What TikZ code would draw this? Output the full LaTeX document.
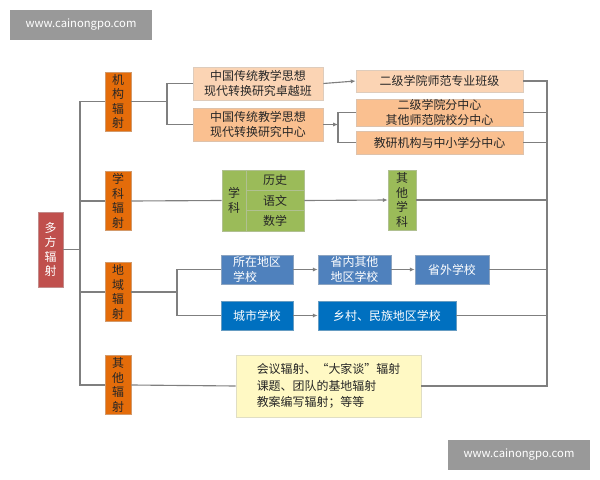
\documentclass[tikz,border=0pt]{standalone}
\usepackage{fontspec}
\setmainfont{Noto Sans CJK SC}
\usetikzlibrary{arrows.meta}
\definecolor{rootred}{HTML}{C0504D}
\definecolor{orange}{HTML}{E46C0A}
\definecolor{peachlight}{HTML}{FBD4B4}
\definecolor{peach}{HTML}{FAC090}
\definecolor{leaf}{HTML}{9BBB59}
\definecolor{blueone}{HTML}{4F81BD}
\definecolor{bluetwo}{HTML}{0070C0}
\definecolor{paleyellow}{HTML}{FFF9C4}
\definecolor{linegray}{HTML}{7F7F7F}
\tikzset{
  box/.style={draw=#1!80!black!60, fill=#1, inner sep=0pt, align=center,
    font=\fontsize{8.5}{10.5}\selectfont, text=black!85},
  vbox/.style={box=#1, font=\fontsize{8.5}{10.3}\selectfont},
  link/.style={draw=linegray, thick},
  arr/.style={link, -{Latex[length=3.5pt,width=3pt]}},
}
\begin{document}
\begin{tikzpicture}[x=0.025cm, y=-0.025cm]
\useasboundingbox (0,0) rectangle (600,480);

%% watermarks
\node [fill=black!40, text=white, minimum width=3.55cm, minimum height=.75cm, font=\fontsize{8}{9}\selectfont] (wmtop) at (81,25) {www.cainongpo.com};
\node [fill=black!40, text=white, minimum width=3.55cm, minimum height=.75cm, font=\fontsize{8}{9}\selectfont] (wmbot) at (519,455) {www.cainongpo.com};

%% root and first level
\node [vbox=rootred, text=white, minimum width=.625cm, minimum height=1.875cm] (root) at (50.5,249.5) {多\\方\\辐\\射};
\node [vbox=orange, minimum width=.65cm, minimum height=1.475cm] (jigou) at (118,101.5) {机\\构\\辐\\射};
\node [vbox=orange, minimum width=.65cm, minimum height=1.475cm] (xueke) at (118,201) {学\\科\\辐\\射};
\node [vbox=orange, minimum width=.65cm, minimum height=1.475cm] (diyu) at (118,292) {地\\域\\辐\\射};
\node [vbox=orange, minimum width=.65cm, minimum height=1.475cm] (qita) at (118,385) {其\\他\\辐\\射};
\coordinate (trunk) at (80,0);
\coordinate (bus) at (547,0);

%% institutions
\node [box=peachlight, minimum width=3.25cm, minimum height=.825cm] (ban) at (258,83.5) {中国传统教学思想\\现代转换研究卓越班};
\node [box=peach, minimum width=3.25cm, minimum height=.825cm] (zhongxin) at (258,124.5) {中国传统教学思想\\现代转换研究中心};
\node [box=peachlight, minimum width=4.175cm, minimum height=.55cm] (banji) at (439.5,81) {二级学院师范专业班级};
\node [box=peach, minimum width=4.175cm, minimum height=.675cm] (fenzx) at (439.5,112.5) {二级学院分中心\\其他师范院校分中心};
\node [box=peach, minimum width=4.175cm, minimum height=.575cm] (jiaoyan) at (439.5,142.5) {教研机构与中小学分中心};
\coordinate (jj) at (167,0);
\coordinate (kk) at (338,0);

%% subjects
\node [box=leaf, minimum width=.6cm, minimum height=1.525cm] (xkleft) at (234,200.5) {学\\科};
\node [box=leaf, minimum width=1.45cm, minimum height=.508cm] (lishi) at (275,180.3) {历史};
\node [box=leaf, minimum width=1.45cm, minimum height=.508cm] (yuwen) at (275,200.5) {语文};
\node [box=leaf, minimum width=1.45cm, minimum height=.508cm] (shuxue) at (275,220.7) {数学};
\node [box=leaf, minimum width=.7cm, minimum height=1.5cm] (qitaxk) at (402,200) {其\\他\\学\\科};

%% regions
\node [box=blueone, text=white, minimum width=1.8cm, minimum height=.725cm, align=left] (suozai) at (257,269.5) {所在地区\\学校};
\node [box=blueone, text=white, minimum width=1.825cm, minimum height=.725cm] (shengnei) at (354.5,269.5) {省内其他\\地区学校};
\node [box=blueone, text=white, minimum width=1.85cm, minimum height=.725cm] (shengwai) at (452,269.5) {省外学校};
\node [box=bluetwo, text=white, minimum width=1.8cm, minimum height=.725cm] (chengshi) at (257,315.5) {城市学校};
\node [box=bluetwo, text=white, minimum width=3.45cm, minimum height=.725cm] (xiangcun) at (387,315.5) {乡村、民族地区学校};
\coordinate (dd) at (177,0);

%% others
\node [box=paleyellow, minimum width=4.625cm, minimum height=1.55cm, align=left, font=\fontsize{8.5}{12}\selectfont] (huiyi) at (328.5,386) {会议辐射、“大家谈”辐射\\课题、团队的基地辐射\\教案编写辐射；等等};

%% connectors
% trunk
\draw [link] (root.east) -- (root.east -| trunk);
\draw [link] (jigou.west) -- (jigou.west -| trunk) -- (qita.west -| trunk) -- (qita.west);
\draw [link] (xueke.west -| trunk) -- (xueke.west);
\draw [link] (diyu.west -| trunk) -- (diyu.west);
% institutions
\draw [link] (jigou.east) -- (jigou.east -| jj);
\draw [link] (ban.west) -- (ban.west -| jj) -- (zhongxin.west -| jj) -- (zhongxin.west);
\draw [arr] (ban.east) -- (banji.west);
\draw [arr] (zhongxin.east) -- (zhongxin.east -| kk);
\draw [link] (fenzx.west) -- (fenzx.west -| kk) -- (jiaoyan.west -| kk) -- (jiaoyan.west);
% subjects
\draw [link] (xueke.east) -- (xkleft.west);
\draw [arr] (yuwen.east) -- (qitaxk.west);
% regions
\draw [link] (diyu.east) -- (diyu.east -| dd);
\draw [link] (suozai.west) -- (suozai.west -| dd) -- (chengshi.west -| dd) -- (chengshi.west);
\draw [arr] (suozai.east) -- (shengnei.west);
\draw [arr] (shengnei.east) -- (shengwai.west);
\draw [arr] (chengshi.east) -- (xiangcun.west);
% others
\draw [link] (qita.east) -- (huiyi.west);
% right bus
\draw [link] (banji.east) -- (banji.east -| bus) -- (huiyi.east -| bus) -- (huiyi.east);
\draw [link] (fenzx.east) -- (fenzx.east -| bus);
\draw [link] (jiaoyan.east) -- (jiaoyan.east -| bus);
\draw [link] (qitaxk.east) -- (qitaxk.east -| bus);
\draw [link] (shengwai.east) -- (shengwai.east -| bus);
\draw [link] (xiangcun.east) -- (xiangcun.east -| bus);

\end{tikzpicture}
\end{document}
